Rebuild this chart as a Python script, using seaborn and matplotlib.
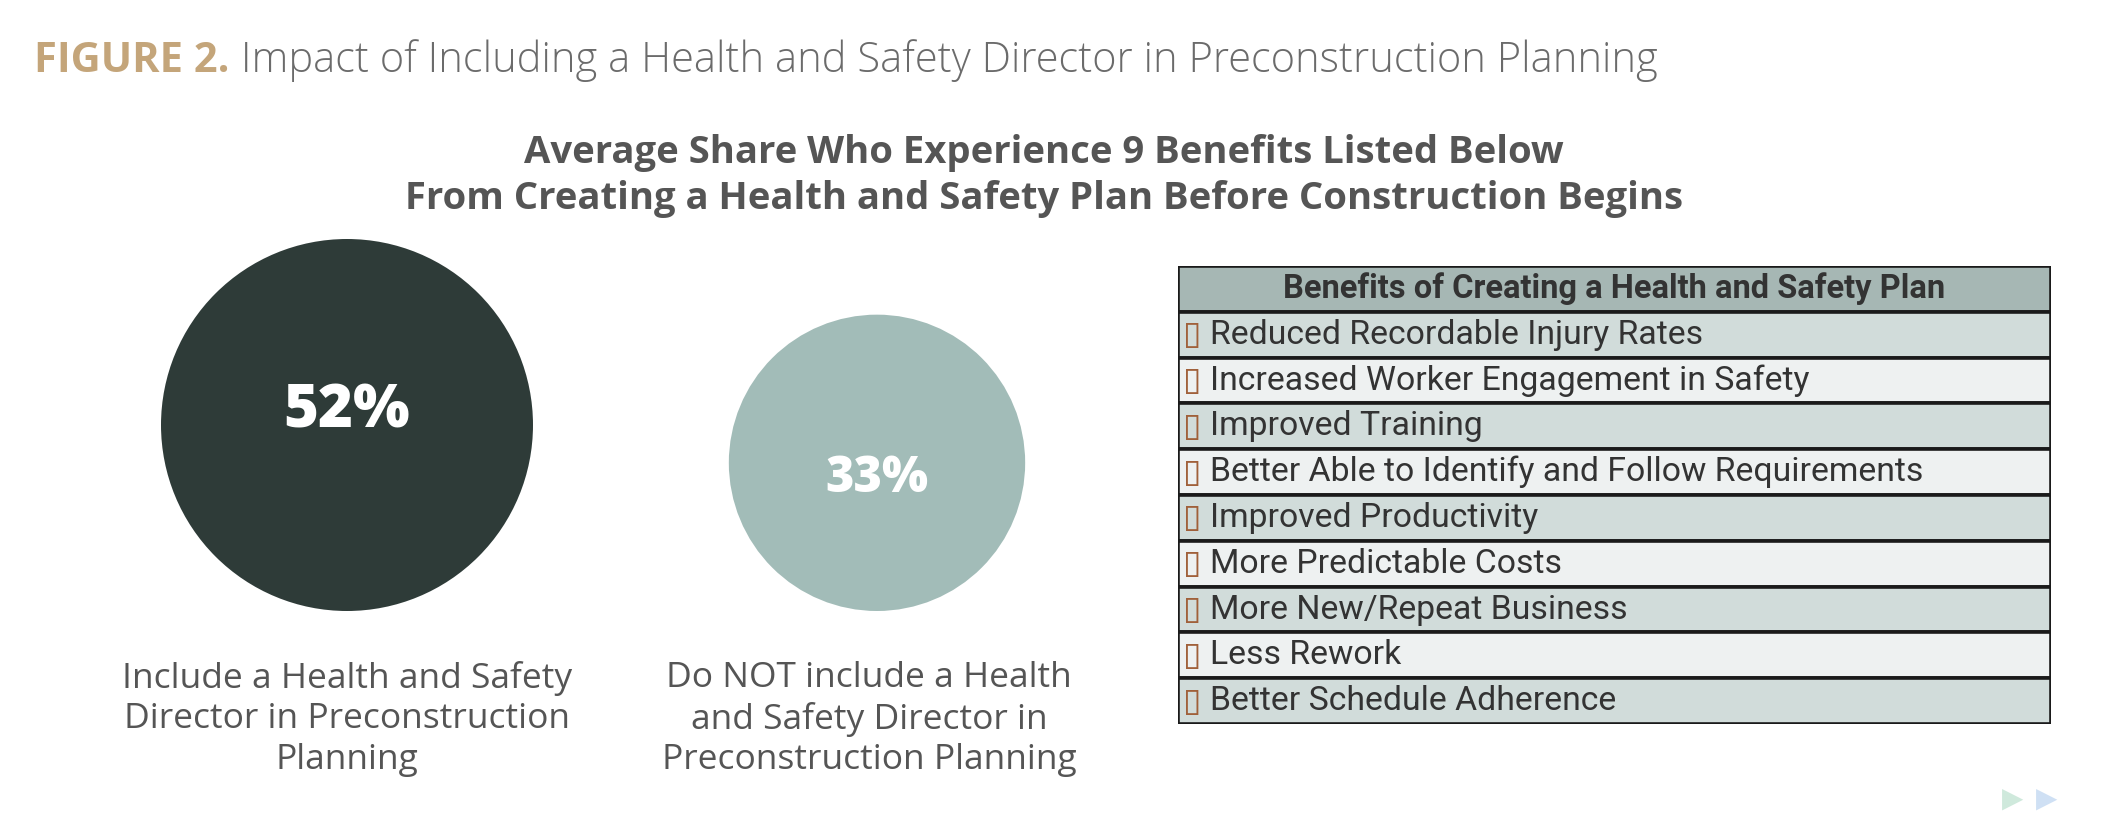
import numpy as np
import pandas as pd
import matplotlib
matplotlib.use('Agg')
import matplotlib.pyplot as plt
import seaborn as sns

sns.set_theme(style='white')
plt.rcParams['font.family'] = ['Open Sans', 'DejaVu Sans']

# data
groups = ['Include a Health and Safety\nDirector in Preconstruction\nPlanning',
          'Do NOT include a Health\nand Safety Director in\nPreconstruction Planning']
shares = [52, 33]
circle_colors = ['#2e3b38', '#a2bcb8']

table_header = 'Benefits of Creating a Health and Safety Plan'
benefits = ['Reduced Recordable Injury Rates',
            'Increased Worker Engagement in Safety',
            'Improved Training',
            'Better Able to Identify and Follow Requirements',
            'Improved Productivity',
            'More Predictable Costs',
            'More New/Repeat Business',
            'Less Rework',
            'Better Schedule Adherence']

W, H = 2117, 815
fig = plt.figure(figsize=(W / 100, H / 100), dpi=100)

# --- full-figure axes in pixel units for titles and circles
ax = fig.add_axes([0, 0, 1, 1])
ax.set_xlim(0, W)
ax.set_ylim(H, 0)
ax.axis('off')

t1 = ax.text(34, 62, 'FIGURE 2.', fontsize=30, fontweight='bold',
             color='#c4a57a', va='center', ha='left')
ax.annotate(' Impact of Including a Health and Safety Director in Preconstruction Planning',
            xy=(1, 0), xycoords=t1, va='bottom', ha='left',
            fontsize=30, color='#6b6b6b', fontweight='light')

ax.text(1044, 153, 'Average Share Who Experience 9 Benefits Listed Below',
        fontsize=27.5, fontweight='bold', color='#555555', ha='center', va='center')
ax.text(1044, 199, 'From Creating a Health and Safety Plan Before Construction Begins',
        fontsize=27.5, fontweight='bold', color='#555555', ha='center', va='center')

# circles: area proportional to share, bottoms aligned
px_per_pt = 100 / 72
r_max = 186.0
radii = [r_max * np.sqrt(v / max(shares)) for v in shares]
base_y = 611
circ = pd.DataFrame({
    'group': groups,
    'share': shares,
    'cx': [347 + 530 * i for i in range(len(groups))],
    'cy': [base_y - r for r in radii],
})
s_max = (2 * r_max / px_per_pt) ** 2
sns.scatterplot(data=circ, x='cx', y='cy', hue='group', palette=circle_colors,
                size='share', sizes=(0, s_max), size_norm=(0, max(shares)),
                linewidth=0, legend=False, ax=ax)
ax.set_xlim(0, W)
ax.set_ylim(H, 0)
ax.set_xlabel('')
ax.set_ylabel('')

label_sizes = [43, 35]
label_dy = [-13, 16]
for i, row in circ.iterrows():
    ax.text(row['cx'], row['cy'] + label_dy[i], f"{row['share']}%",
            fontsize=label_sizes[i], fontweight='heavy', color='white',
            ha='center', va='center')
    ax.text(row['cx'] - (8 if i else 0), 661, row['group'], fontsize=25.5,
            color='#555555', ha='center', va='top', linespacing=1.25)

# faint arrows bottom right
ax.text(2013, 800, '\u25b6', fontsize=20, color='#cfe9dc', ha='center', va='center')
ax.text(2047, 800, '\u25b6', fontsize=20, color='#cfe0f4', ha='center', va='center')

# --- benefits table
tx0, tx1, ty0, ty1 = 1178, 2051, 266, 724
ax_t = fig.add_axes([tx0 / W, 1 - ty1 / H, (tx1 - tx0) / W, (ty1 - ty0) / H])
rows = [table_header] + benefits
row_colors = ['#a3bab6'] + ['#cfdedb' if i % 2 == 0 else '#edf2f2' for i in range(len(benefits))]
tbl = pd.DataFrame({'row': rows, 'w': [1] * len(rows)})
sns.barplot(data=tbl, x='w', y='row', hue='row', palette=row_colors, orient='h',
            width=1.0, edgecolor='#1a1a1a', linewidth=2.6, legend=False, ax=ax_t)
ax_t.set_xlim(0, 1)
ax_t.set_ylim(len(rows) - 0.5, -0.5)
ax_t.axis('off')

cond = ['Roboto', 'DejaVu Sans']
ax_t.text(0.5, 0, table_header, fontsize=23.5, fontweight='bold', color='#333333',
          ha='center', va='center', family=cond)
for i, b in enumerate(benefits, start=1):
    ax_t.text(0.006, i, '\u25af', fontsize=24, color='#a0603a', ha='left', va='center',
              family=['DejaVu Sans'])
    ax_t.text(0.037, i, b, fontsize=24.3, color='#333333', ha='left', va='center',
              family=cond)

fig.savefig('out.png', dpi=100, facecolor='white')
